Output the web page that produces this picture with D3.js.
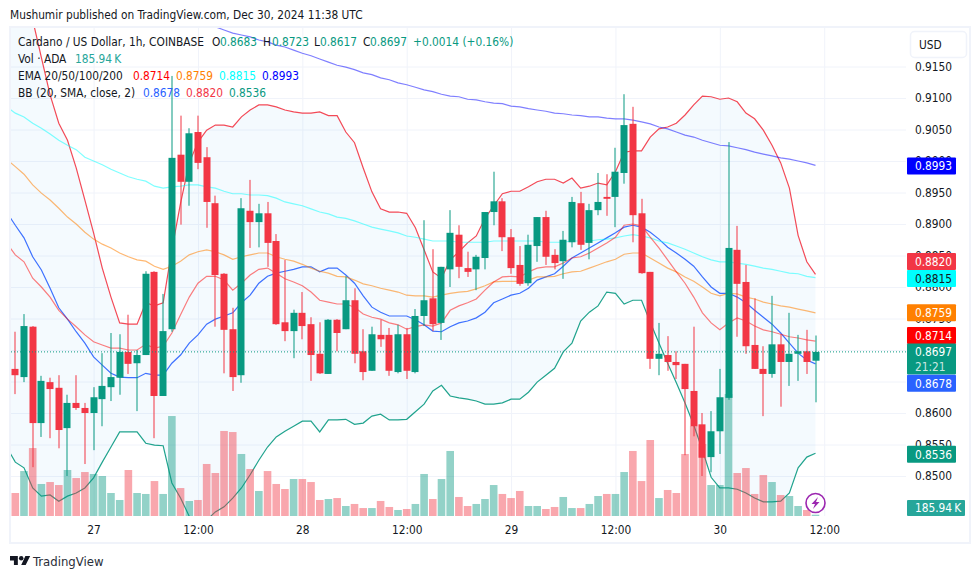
<!DOCTYPE html>
<html>
<head>
<meta charset="utf-8">
<style>
html, body { margin: 0; padding: 0; background: #fff; }
svg { display: block; }
text { font-family: "DejaVu Sans Condensed", "DejaVu Sans", sans-serif; font-size: 11.8px; fill: #131722; }
</style>
<script src="https://cdn.jsdelivr.net/npm/d3@7"></script>
</head>
<body>
<svg width="980" height="579"></svg>
<script>
'use strict';

//candles, one hourly bar each
var opens = [
    .8670,.8657,.8737,.8584,.8649,.8640,.8576,.8616,.8608,.8600,
    .8622,.8641,.8656,.8697,.8679,.8692,.8824,.8627,.8733,.9010,
    .8967,.9046,.9006,.8933,.8821,.8733,.8660,.8921,.8903,.8917,
    .8873,.8744,.8730,.8759,.8741,.8694,.8662,.8748,.8733,.8779,
    .8698,.8667,.8724,.8724,.8665,.8725,.8665,.8754,.8782,.8743,
    .8828,.8883,.8830,.8828,.8846,.8919,.8936,.8879,.8835,.8806,
    .8865,.8911,.8851,.8841,.8871,.8933,.8870,.8922,.8943,.8943,
    .8981,.9059,.8917,.8824,.8686,.8692,.8681,.8678,.8635,.8582,
    .8530,.8571,.8624,.8859,.8808,.8708,.8670,.8662,.8709,.8681,
    .8694,.8698,.8683];
var highs = [
    .8729,.8757,.8738,.8659,.8656,.8660,.8629,.8660,.8616,.8641,
    .8695,.8727,.8725,.8756,.8700,.8825,.8825,.8789,.9135,.9072,
    .9052,.9072,.9022,.8945,.8822,.8767,.8941,.8970,.8932,.8935,
    .8884,.8843,.8764,.8792,.8752,.8744,.8749,.8749,.8817,.8798,
    .8733,.8737,.8748,.8735,.8740,.8735,.8765,.8906,.8860,.8832,
    .8922,.8898,.8856,.8851,.8919,.8983,.8941,.8892,.8865,.8883,
    .8911,.8921,.8860,.8889,.8943,.8951,.8932,.8981,.8979,.9021,
    .9106,.9086,.8940,.8824,.8743,.8722,.8698,.8678,.8737,.8600,
    .8603,.8670,.9030,.8897,.8835,.8782,.8706,.8786,.8725,.8759,
    .8724,.8732,.8723];
var lows = [
    .8630,.8649,.8514,.8562,.8560,.8544,.8500,.8605,.8519,.8541,
    .8579,.8619,.8629,.8662,.8603,.8692,.8560,.8627,.8729,.8899,
    .8929,.8987,.8894,.8737,.8663,.8635,.8648,.8862,.8863,.8832,
    .8740,.8714,.8687,.8717,.8651,.8662,.8662,.8698,.8733,.8679,
    .8652,.8667,.8705,.8659,.8663,.8654,.8663,.8738,.8730,.8716,
    .8800,.8814,.8816,.8795,.8828,.8898,.8857,.8821,.8802,.8802,
    .8840,.8835,.8828,.8813,.8863,.8859,.8844,.8914,.8913,.8895,
    .8964,.8871,.8821,.8670,.8660,.8667,.8654,.8533,.8563,.8500,
    .8506,.8535,.8621,.8721,.8694,.8670,.8595,.8656,.8610,.8643,
    .8651,.8662,.8617];
var closes = [
    .8660,.8738,.8584,.8651,.8638,.8573,.8616,.8608,.8600,.8625,
    .8643,.8657,.8697,.8678,.8692,.8821,.8627,.8730,.9005,.8967,
    .9044,.8997,.8935,.8819,.8732,.8657,.8925,.8903,.8917,.8870,
    .8741,.8730,.8759,.8738,.8692,.8663,.8748,.8727,.8779,.8694,
    .8665,.8725,.8717,.8667,.8725,.8667,.8754,.8779,.8741,.8832,
    .8886,.8832,.8824,.8848,.8919,.8936,.8879,.8830,.8805,.8867,
    .8911,.8848,.8838,.8875,.8935,.8867,.8922,.8935,.8940,.8983,
    .9057,.8914,.8822,.8686,.8694,.8681,.8676,.8638,.8579,.8529,
    .8571,.8625,.8862,.8805,.8706,.8670,.8662,.8709,.8681,.8694,
    .8698,.8681,.8697];
//volume in thousands of ADA
var volumes = [
    3290,6430,9720,4580,4860,4430,6580,5430,6290,6010,
    5720,3290,2290,6580,3290,3150,5000,3150,14300,4000,
    2150,2290,7440,6150,12160,12010,8870,6720,3580,6430,
    4580,3860,5290,5290,4860,2290,2430,2570,1430,1720,
    1140,1140,2150,1290,860,1000,1720,6010,2430,5290,
    9300,2720,1430,1720,2430,4430,3150,2570,3580,1430,
    1430,1000,1290,2720,1140,1140,1720,2860,3150,3150,
    6290,9300,5000,10870,2570,3720,3290,8870,12870,10300,
    4430,4430,17450,6150,6860,3150,5860,4860,3000,2860,
    1430,860,185.94];

//the indicator lists start one bar earlier, just off the left edge of the pane
var bbUpper = [
    .9367,.9319,.9272,.9224,.9164,.9105,.9060,.9033,.8989,.8938,
    .8886,.8830,.8784,.8743,.8741,.8741,.8775,.8770,.8775,.8859,
    .8933,.8997,.9030,.9049,.9057,.9057,.9054,.9070,.9081,.9089,
    .9089,.9086,.9081,.9078,.9076,.9076,.9078,.9072,.9072,.9046,
    .9029,.8989,.8951,.8924,.8919,.8919,.8917,.8894,.8859,.8824,
    .8814,.8843,.8856,.8870,.8881,.8909,.8929,.8948,.8952,.8952,
    .8959,.8967,.8971,.8971,.8965,.8973,.8957,.8960,.8965,.8962,
    .8983,.9014,.9016,.9016,.9038,.9051,.9054,.9060,.9073,.9089,
    .9103,.9102,.9098,.9100,.9094,.9076,.9067,.9049,.9025,.8997,
    .8957,.8882,.8840,.8820];
var bbBasis = [
    .8919,.8898,.8878,.8848,.8827,.8798,.8767,.8749,.8729,.8711,
    .8689,.8676,.8663,.8657,.8656,.8656,.8663,.8660,.8660,.8679,
    .8692,.8711,.8724,.8741,.8749,.8754,.8759,.8775,.8787,.8806,
    .8817,.8822,.8825,.8828,.8832,.8832,.8824,.8830,.8830,.8819,
    .8806,.8786,.8768,.8760,.8754,.8754,.8754,.8748,.8740,.8730,
    .8729,.8737,.8743,.8746,.8751,.8760,.8775,.8781,.8787,.8790,
    .8798,.8811,.8816,.8821,.8833,.8846,.8854,.8862,.8870,.8878,
    .8886,.8895,.8898,.8895,.8887,.8876,.8863,.8854,.8844,.8833,
    .8816,.8800,.8790,.8790,.8784,.8775,.8763,.8752,.8741,.8727,
    .8711,.8695,.8684,.8678];
var bbLower = [
    .8546,.8522,.8513,.8481,.8468,.8470,.8460,.8468,.8473,.8481,
    .8497,.8522,.8546,.8570,.8570,.8570,.8552,.8549,.8548,.8489,
    .8465,.8436,.8419,.8430,.8443,.8451,.8465,.8481,.8502,.8525,
    .8546,.8562,.8571,.8579,.8587,.8587,.8570,.8589,.8589,.8590,
    .8582,.8584,.8595,.8598,.8589,.8589,.8590,.8602,.8614,.8635,
    .8644,.8627,.8624,.8622,.8619,.8614,.8614,.8616,.8622,.8622,
    .8633,.8649,.8660,.8671,.8697,.8711,.8746,.8760,.8770,.8792,
    .8790,.8773,.8779,.8779,.8744,.8711,.8679,.8648,.8616,.8581,
    .8541,.8498,.8481,.8481,.8479,.8473,.8465,.8459,.8459,.8460,
    .8473,.8513,.8530,.8536];
var ema20 = [
    .8870,.8851,.8840,.8814,.8800,.8784,.8763,.8749,.8737,.8724,
    .8713,.8708,.8703,.8703,.8700,.8700,.8709,.8703,.8706,.8727,
    .8756,.8784,.8806,.8817,.8817,.8811,.8795,.8806,.8819,.8828,
    .8830,.8822,.8813,.8808,.8802,.8792,.8779,.8776,.8773,.8773,
    .8768,.8757,.8752,.8749,.8743,.8740,.8733,.8737,.8740,.8738,
    .8743,.8763,.8770,.8775,.8781,.8795,.8808,.8816,.8817,.8816,
    .8824,.8830,.8832,.8832,.8838,.8846,.8848,.8854,.8862,.8870,
    .8879,.8898,.8900,.8897,.8879,.8862,.8843,.8824,.8806,.8784,
    .8759,.8743,.8732,.8743,.8751,.8746,.8738,.8732,.8729,.8725,
    .8721,.8719,.8716,.8714];
var ema50 = [
    .9003,.8991,.8979,.8962,.8949,.8938,.8925,.8911,.8900,.8887,
    .8876,.8868,.8862,.8854,.8848,.8843,.8841,.8833,.8828,.8833,
    .8841,.8851,.8856,.8859,.8856,.8851,.8844,.8848,.8851,.8854,
    .8854,.8848,.8844,.8841,.8836,.8830,.8825,.8822,.8817,.8816,
    .8811,.8805,.8802,.8798,.8795,.8792,.8787,.8786,.8786,.8784,
    .8787,.8790,.8792,.8793,.8797,.8802,.8808,.8809,.8809,.8809,
    .8811,.8816,.8816,.8817,.8821,.8824,.8825,.8830,.8835,.8840,
    .8844,.8852,.8854,.8854,.8846,.8838,.8830,.8824,.8816,.8809,
    .8800,.8790,.8786,.8790,.8789,.8784,.8781,.8776,.8773,.8770,
    .8768,.8765,.8762,.8759];
var ema100 = [
    .9086,.9076,.9070,.9060,.9052,.9043,.9033,.9025,.9018,.9006,
    .9000,.8994,.8987,.8981,.8975,.8971,.8968,.8960,.8957,.8959,
    .8960,.8962,.8962,.8959,.8957,.8952,.8948,.8948,.8946,.8946,
    .8945,.8941,.8935,.8932,.8929,.8924,.8919,.8916,.8911,.8909,
    .8905,.8900,.8895,.8892,.8889,.8886,.8881,.8879,.8876,.8873,
    .8873,.8873,.8871,.8871,.8871,.8871,.8873,.8873,.8873,.8873,
    .8873,.8873,.8871,.8871,.8871,.8873,.8873,.8873,.8875,.8876,
    .8878,.8881,.8883,.8881,.8878,.8873,.8870,.8865,.8860,.8854,
    .8848,.8843,.8840,.8840,.8838,.8836,.8833,.8830,.8828,.8825,
    .8822,.8821,.8817,.8815];
//above the top of the pane for the first bars
var ema200 = Array(23).fill(null).concat([
    .9218,.9213,.9208,.9203,.9200,.9197,.9192,.9189,.9184,.9181,
    .9176,.9171,.9167,.9162,.9157,.9152,.9149,.9145,.9140,.9137,
    .9132,.9129,.9124,.9121,.9117,.9113,.9110,.9106,.9103,.9102,
    .9098,.9097,.9094,.9092,.9091,.9087,.9086,.9083,.9081,.9079,
    .9076,.9075,.9073,.9072,.9070,.9070,.9068,.9067,.9067,.9065,
    .9062,.9059,.9054,.9051,.9046,.9041,.9038,.9033,.9029,.9025,
    .9024,.9021,.9018,.9014,.9011,.9008,.9005,.9003,.9000,.8997,
    .8993]);

var priceTicks = [.85,.855,.86,.865,.87,.875,.88,.885,.89,.895,.90,.905,.91,.915];
var timeTickBars = [9,21,33,45,57,69,81,93];
var timeTickLabels = ['27','12:00','28','12:00','29','12:00','30','12:00'];
var tagPrices = [.8993,.8820,.8815,.8759,.8714,.8697,.8678,.8536];

var GREEN = '#089981', RED = '#f23645', GRID = '#f0f3fa';

var svg = d3.select('svg');
var paneLeft = 11, paneRight = 906, paneTop = 28, paneBottom = 516;

//bar 0 is the first candle, bar 92 the live one
var x = d3.scaleLinear().domain([0, 92]).range([15.3, 815.5]);
var y = d3.scaleLinear().domain([.85, .915]).range([476, 66.5]);
var yVol = d3.scaleLinear().domain([0, 17450]).range([paneBottom, paneBottom - 122]);

svg.append('defs').append('clipPath').attr('id', 'pane')
    .append('rect')
    .attr('x', paneLeft).attr('y', paneTop)
    .attr('width', paneRight - paneLeft).attr('height', paneBottom - paneTop);

//outer frame
svg.append('rect')
    .attr('x', 10).attr('y', 27)
    .attr('width', 960).attr('height', 516)
    .attr('fill', 'none').attr('stroke', GRID).attr('stroke-width', 2);

//grid comes from the axes themselves
var gridY = svg.append('g')
    .attr('transform', 'translate(' + paneLeft + ',0)')
    .call(d3.axisRight(y).tickValues(priceTicks).tickSize(paneRight - paneLeft).tickFormat(''));
var gridX = svg.append('g')
    .attr('transform', 'translate(0,' + paneBottom + ')')
    .call(d3.axisTop(x).tickValues(timeTickBars).tickSize(paneBottom - paneTop).tickFormat(''));
[gridY, gridX].forEach(function (g) {
    g.select('.domain').remove();
    g.selectAll('line').attr('stroke', GRID);
});

var pane = svg.append('g').attr('clip-path', 'url(#pane)');

//the indicator lists are offset by one from the candles
var barOf = function (d, i) { return x(i - 1); };

//bollinger band fill
var bandArea = d3.area()
    .x(barOf)
    .y0(function (d, i) { return y(bbLower[i]); })
    .y1(function (d) { return y(d); });
pane.append('path')
    .datum(bbUpper)
    .attr('d', bandArea)
    .attr('fill', '#2196f3').attr('fill-opacity', 0.05);

var indicators = [
    { values: bbUpper, color: RED, opacity: 0.9 },
    { values: bbLower, color: GREEN, opacity: 0.9 },
    { values: bbBasis, color: '#2962ff', opacity: 0.9 },
    { values: ema200, color: '#0000ff', opacity: 0.5 },
    { values: ema100, color: '#00ffff', opacity: 0.5 },
    { values: ema50, color: '#ff8000', opacity: 0.55 },
    { values: ema20, color: '#ff0000', opacity: 0.5 }
];
var lineGen = d3.line()
    .defined(function (d) { return d !== null; })
    .x(barOf)
    .y(function (d) { return y(d); });
pane.selectAll('path.indicator')
    .data(indicators)
    .enter()
    .append('path')
    .attr('class', 'indicator')
    .attr('d', function (d) { return lineGen(d.values); })
    .attr('fill', 'none')
    .attr('stroke', function (d) { return d.color; })
    .attr('stroke-opacity', function (d) { return d.opacity; })
    .attr('stroke-width', 1.2);

var isUp = function (i) { return closes[i] >= opens[i]; };
var barColor = function (d, i) { return isUp(i) ? GREEN : RED; };

//volume sits over the lines, under the candles
pane.selectAll('rect.vol')
    .data(volumes)
    .enter()
    .append('rect')
    .attr('class', 'vol')
    .attr('x', function (d, i) { return x(i) - 3.8; })
    .attr('width', 7.6)
    .attr('y', function (d) { return yVol(d); })
    .attr('height', function (d) { return paneBottom - yVol(d); })
    .attr('fill', barColor)
    .attr('fill-opacity', 0.44);

//candles
pane.selectAll('rect.wick')
    .data(opens)
    .enter()
    .append('rect')
    .attr('class', 'wick')
    .attr('x', function (d, i) { return Math.round(x(i)) - 0.5; })
    .attr('width', 1)
    .attr('y', function (d, i) { return y(highs[i]); })
    .attr('height', function (d, i) { return y(lows[i]) - y(highs[i]); })
    .attr('fill', barColor);
pane.selectAll('rect.body')
    .data(opens)
    .enter()
    .append('rect')
    .attr('class', 'body')
    .attr('x', function (d, i) { return Math.round(x(i)) - 3.5; })
    .attr('width', 7)
    .attr('y', function (d, i) { return y(Math.max(d, closes[i])); })
    .attr('height', function (d, i) { return Math.max(1, Math.abs(y(d) - y(closes[i]))); })
    .attr('fill', barColor);

//last price line
var lastY = y(closes[closes.length - 1]);
svg.append('line')
    .attr('x1', paneLeft).attr('x2', paneRight)
    .attr('y1', lastY).attr('y2', lastY)
    .attr('stroke', GREEN)
    .attr('stroke-dasharray', '1 2');

//price axis
var priceAxis = svg.append('g')
    .attr('transform', 'translate(906,0)')
    .call(d3.axisRight(y).tickValues(priceTicks).tickSize(0).tickPadding(9).tickFormat(d3.format('.4f')));
priceAxis.select('.domain').remove();

//time axis
var timeAxis = svg.append('g')
    .attr('transform', 'translate(0,' + paneBottom + ')')
    .call(d3.axisBottom(x)
        .tickValues(timeTickBars)
        .tickSize(0)
        .tickPadding(10)
        .tickFormat(function (d, i) { return timeTickLabels[i]; }));
timeAxis.select('.domain').remove();
svg.selectAll('.tick text').style('font-size', '11.8px').attr('fill', '#131722');

//price tags on the axis, the nudges keep them from overlapping
var tagColors = ['#0000ff', RED, '#00ffff', '#ff8000', '#ff0000', GREEN, '#2962ff', GREEN];
var tagText = ['#fff', '#fff', '#131722', '#fff', '#fff', '#fff', '#fff', '#fff'];
var tagNudge = [0.5, -12.9, 1, 0, -5.7, 0, 19.5, 1];
var tagHeights = [17, 17, 17, 17, 17, 31, 17, 17];
var tags = svg.selectAll('g.tag')
    .data(tagPrices)
    .enter()
    .append('g')
    .attr('class', 'tag')
    .attr('transform', function (d, i) { return 'translate(907,' + (y(d) + tagNudge[i]) + ')'; });
tags.append('rect')
    .attr('y', -8.5)
    .attr('width', 49)
    .attr('height', function (d, i) { return tagHeights[i]; })
    .attr('rx', 1)
    .attr('fill', function (d, i) { return tagColors[i]; });
tags.append('text')
    .attr('x', 8).attr('dy', '0.36em')
    .style('fill', function (d, i) { return tagText[i]; })
    .text(d3.format('.4f'));

//countdown under the last price
svg.append('text')
    .attr('x', 915).attr('y', y(closes[92]) + 15).attr('dy', '0.36em')
    .style('fill', '#fff').style('fill-opacity', 0.8)
    .text('21:21');

//volume tag
svg.append('rect')
    .attr('x', 907).attr('y', 500)
    .attr('width', 58).attr('height', 16)
    .attr('rx', 1).attr('fill', '#26a69a');
svg.append('text')
    .attr('x', 915).attr('y', 508).attr('dy', '0.36em')
    .style('fill', '#fff')
    .text('185.94\u2009K');

//currency button
svg.append('rect')
    .attr('x', 910.5).attr('y', 31.5)
    .attr('width', 56).attr('height', 26)
    .attr('rx', 4).attr('fill', '#fff').attr('stroke', GRID).attr('stroke-width', 1.5);
svg.append('text').attr('x', 919).attr('y', 49).text('USD');

//header and footer
svg.append('text').attr('x', 10).attr('y', 18.5).text('Mushumir published on TradingView.com, Dec 30, 2024 11:38 UTC');
var logo = svg.append('g').attr('transform', 'translate(10,552.6) scale(0.56)').attr('fill', '#131722');
logo.append('path').attr('d', 'M14 6H0v8h7v8h7V6Zm14 16h-8l7.5-16H36l-8 16Z');
logo.append('circle').attr('cx', 20).attr('cy', 10).attr('r', 4);
svg.append('text').attr('x', 33).attr('y', 566).style('font-size', '13px').style('fill', '#2a2e39').text('TradingView');

//legend rows
var legendRows = [
    { y: 46, parts: [
        { x: 18, t: 'Cardano / US Dollar, 1h, COINBASE' },
        { x: 212, t: 'O' }, { x: 220, t: '0.8683', c: GREEN },
        { x: 263, t: 'H' }, { x: 272, t: '0.8723', c: GREEN },
        { x: 314, t: 'L' }, { x: 320, t: '0.8617', c: GREEN },
        { x: 363, t: 'C' }, { x: 370, t: '0.8697', c: GREEN },
        { x: 413, t: '+0.0014 (+0.16%)', c: GREEN }
    ] },
    { y: 63, parts: [
        { x: 18, t: 'Vol · ADA' }, { x: 75, t: '185.94\u2009K', c: '#26a69a' }
    ] },
    { y: 80, parts: [
        { x: 18, t: 'EMA 20/50/100/200' },
        { x: 133, t: '0.8714', c: '#ff0000' }, { x: 176, t: '0.8759', c: '#ff8000' },
        { x: 219, t: '0.8815', c: '#00ffff' }, { x: 262, t: '0.8993', c: '#0000ff' }
    ] },
    { y: 97, parts: [
        { x: 18, t: 'BB (20, SMA, close, 2)' },
        { x: 143, t: '0.8678', c: '#2962ff' }, { x: 186, t: '0.8820', c: RED },
        { x: 229, t: '0.8536', c: GREEN }
    ] }
];
legendRows.forEach(function (row) {
    row.parts.forEach(function (p) {
        svg.append('text')
            .attr('x', p.x).attr('y', row.y)
            .style('fill', p.c || '#131722')
            .text(p.t);
    });
});

//lightning badge at the live bar
var badge = svg.append('g').attr('transform', 'translate(815.5,503)');
badge.append('circle').attr('r', 9.5).attr('fill', '#fff').attr('stroke', '#9c27b0').attr('stroke-width', 1.6);
badge.append('path')
    .attr('d', 'M2.5 -6L-4 1H-0.5L-2.5 6L4 -1H0.5Z')
    .attr('fill', '#9c27b0');
</script>
</body>
</html>
